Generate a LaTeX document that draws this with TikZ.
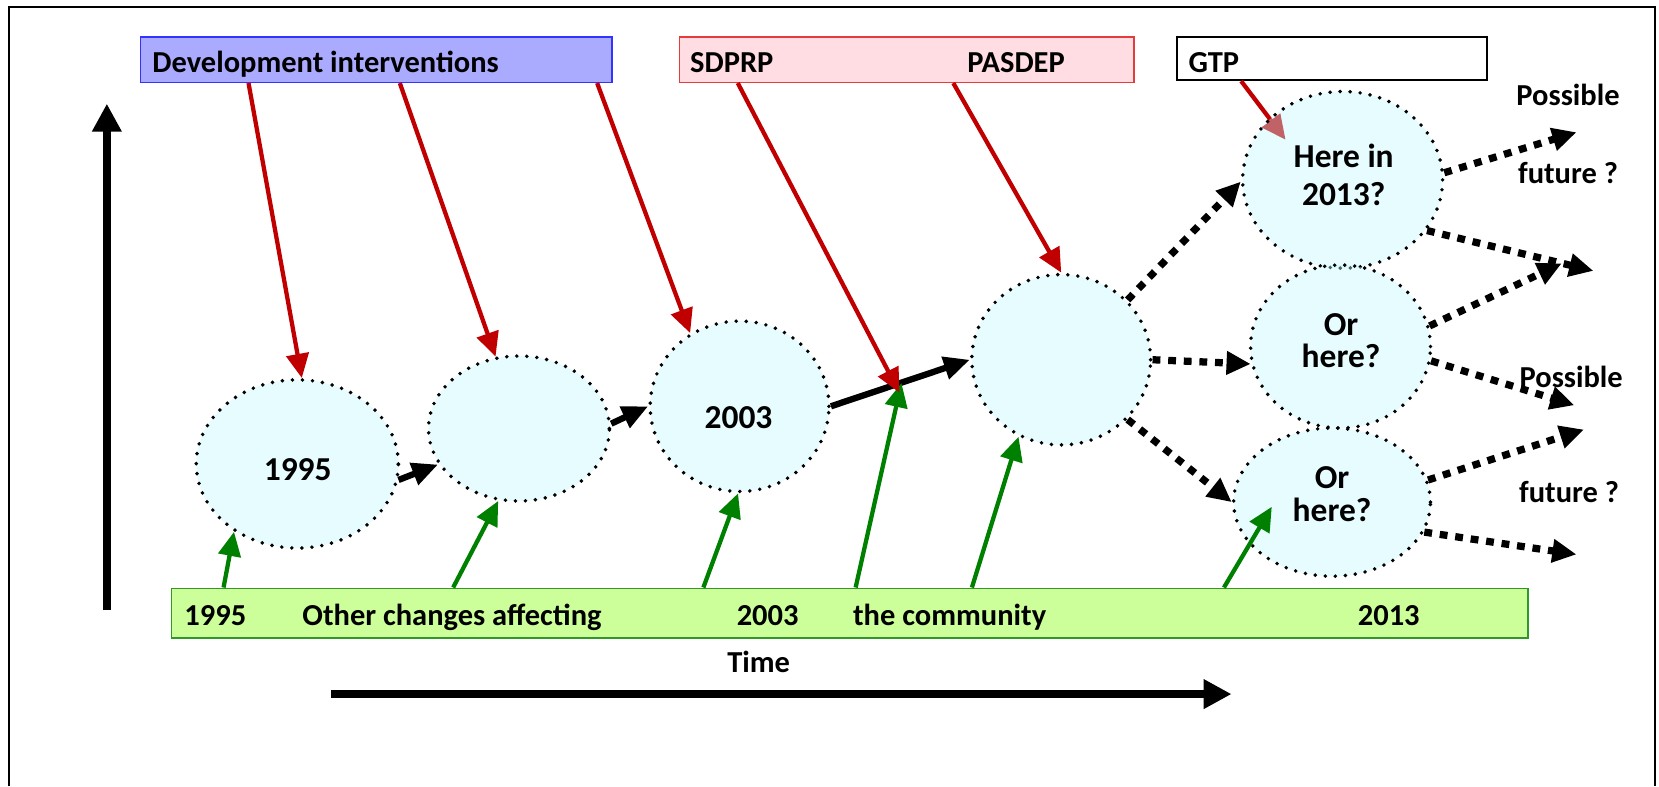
\documentclass[tikz,border=0pt]{standalone}
\usepackage{fontspec}
\setmainfont{Carlito}
\usepackage{xcolor}
\usetikzlibrary{calc}
\usetikzlibrary{shapes}
\usetikzlibrary{arrows.meta}

\definecolor{devfill}{RGB}{170,170,255}
\definecolor{devline}{RGB}{51,51,255}
\definecolor{planfill}{RGB}{255,221,226}
\definecolor{planline}{RGB}{228,60,60}
\definecolor{chgfill}{RGB}{204,255,153}
\definecolor{chgline}{RGB}{50,150,40}
\definecolor{bubblefill}{RGB}{192,247,255}
\definecolor{pushred}{RGB}{192,0,0}
\definecolor{pushgreen}{RGB}{0,128,0}

\tikzset{
  plainbox/.style={rectangle,inner sep=0pt,line width=0.8pt},
  word/.style={inner sep=0pt,anchor=base west},
  bubble/.style={ellipse,inner sep=0pt,fill=bubblefill,fill opacity=0.4,draw=black,
    line width=2.1pt,dash pattern=on 0pt off 5.4pt,line cap=round},
  bubbletext/.style={inner sep=0pt,align=center,font=\bfseries\fontsize{18}{17.5}\selectfont},
  redpush/.style={draw=pushred,line width=2.3pt,-{Triangle[length=13pt,width=12pt]}},
  greenpush/.style={draw=pushgreen,line width=2.3pt,-{Triangle[length=13pt,width=12pt]}},
  move/.style={line width=3.4pt,-{Triangle[length=14pt,width=12pt]}},
  maybe/.style={line width=3.9pt,dash pattern=on 4.2pt off 4.2pt,-{Triangle[length=13pt,width=12pt]}},
  axisarrow/.style={line width=4.5pt,-{Triangle[length=15pt,width=15pt]}}
}

\begin{document}
\begin{tikzpicture}[x=0.2mm,y=-0.2mm,every node/.style={font=\bfseries\fontsize{16.4}{19}\selectfont}]
\useasboundingbox (0,0) rectangle (1568,743);

\draw[line width=1.1pt] (8.7,743) -- (8.7,6.3) -- (1564,6.3) -- (1564,743);

\draw[axisarrow] (101,577) -- (101,98);
\draw[axisarrow] (313,656) -- (1164,656);
\node[word] (time) at (687,636) {Time};

% top boxes
\node[plainbox,fill=devfill,draw=devline,minimum width=89.2mm,minimum height=8.6mm] (dev) at (355.6,56.3) {};
\node[plainbox,fill=planfill,draw=planline,minimum width=86mm,minimum height=8.6mm] (plan) at (857,56.3) {};
\node[plainbox,draw=black,line width=1.1pt,minimum width=58.5mm,minimum height=8.2mm] (gtp) at (1258.8,55.2) {};
\node[word] (devtxt) at (143.7,68.5) {Development interventions};
\node[word] (sdprp) at (652,68.5) {SDPRP};
\node[word] (pasdep) at (914,68.5) {PASDEP};
\node[word] (gtptxt) at (1123,68.5) {GTP};

% bottom box
\node[plainbox,fill=chgfill,draw=chgline,minimum width=256.4mm,minimum height=9.4mm] (chg) at (803,579.5) {};
\node[word] (y95) at (174,591.5) {1995};
\node[word] (other) at (285.5,591.5) {Other changes affecting};
\node[word] (y03) at (696,591.5) {2003};
\node[word] (comm) at (806,591.5) {the community};
\node[word] (y13) at (1283,591.5) {2013};

\coordinate (gtpmeet) at (1215,132);
\draw[redpush] ($(gtp.south west)+(61.5,0)$) -- (gtpmeet);

% states
\node[bubble,minimum width=38.2mm,minimum height=31.8mm] (c1) at (281,438.5) {};
\node[bubble,minimum width=34.2mm,minimum height=27.4mm] (c2) at (490.5,405) {};
\node[bubble,minimum width=33.8mm,minimum height=32.2mm] (c3) at (699,384) {};
\node[bubble,minimum width=33.8mm,minimum height=32.2mm] (c4) at (1003,340) {};
\node[bubble,minimum width=37.8mm,minimum height=33.4mm] (c5) at (1269,170) {};
\node[bubble,minimum width=34mm,minimum height=30.8mm] (c6) at (1267,327.5) {};
\node[bubble,minimum width=37.2mm,minimum height=28mm] (c7) at (1259,474.6) {};

\node[bubbletext,anchor=base] (t1) at (281.4,454.5) {1995};
\node[bubbletext,anchor=base] (t3) at (698,405) {2003};
\node[bubbletext,font=\bfseries\fontsize{18}{20.3}\selectfont] (t5) at (1270,165.5) {Here in\\2013?};
\node[bubbletext] (t6) at (1267.5,322) {Or\\here?};
\node[bubbletext] (t7) at (1259,466.8) {Or\\here?};

\node[anchor=base] (pos1) at (1482,100) {Possible};
\node[anchor=base] (fut1) at (1482,173) {future ?};
\node[anchor=base] (pos2) at (1485,366) {Possible};
\node[anchor=base] (fut2) at (1483,474.5) {future ?};

\draw[move] (c1.-9) -- (c2.204);
\draw[move] (c2.3) -- (c3.180);
\draw[move] (c3.0) -- (c4.180);

\coordinate (f1) at (1490,125);
\coordinate (f2) at (1506,256);
\coordinate (f3) at (1476,249);
\coordinate (f4) at (1488,383);
\coordinate (f5) at (1497,406);
\coordinate (f6) at (1490,524);
\draw[maybe] (c4.42) -- (c5.181);
\draw[maybe] (c4.0) -- (c6.191);
\draw[maybe] (c4.-42) -- (c7.180);
\draw[maybe] (c5.4) -- (f1);
\draw[maybe] (c5.-31) -- (f2);
\draw[maybe] (c6.13) -- (f3);
\draw[maybe] (c6.-9) -- (f4);
\draw[maybe] (c7.13) -- (f5);
\draw[maybe] (c7.-18) -- (f6);

% outside changes
\coordinate (greenmeet) at (852,362);
\coordinate (c7meet) at (1202,479);
\draw[greenpush] ($(chg.north west)+(50,0)$) -- (c1.227);
\draw[greenpush] ($(chg.north west)+(267,0)$) -- (c2.254);
\draw[greenpush] ($(chg.north west)+(503.5,0)$) -- (c3.269);
\draw[greenpush] ($(chg.north west)+(647.4,0)$) -- (greenmeet);
\draw[greenpush] ($(chg.north west)+(757.3,0)$) -- (c4.241);
\draw[greenpush] ($(chg.north west)+(995.5,0)$) -- (c7meet);

% interventions
\coordinate (redmeet) at (850,371);
\draw[redpush] ($(dev.south west)+(103,0)$) -- (c1.87);
\draw[redpush] ($(dev.south west)+(246,0)$) -- (c2.108);
\draw[redpush] ($(dev.south west)+(432.5,0)$) -- (c3.124);
\draw[redpush] ($(plan.south west)+(56,0)$) -- (redmeet);
\draw[redpush] ($(plan.south west)+(259.7,0)$) -- (c4.90);

\end{tikzpicture}
\end{document}
